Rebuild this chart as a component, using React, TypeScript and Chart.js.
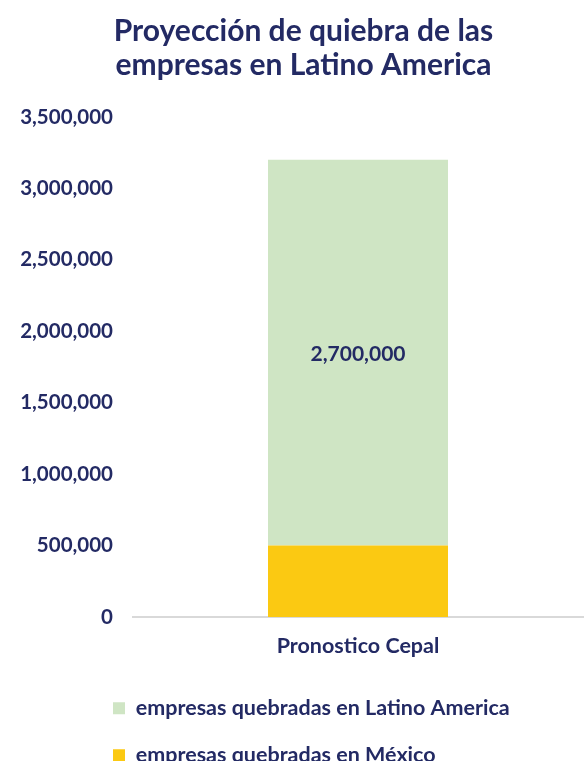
import React, { useEffect, useRef } from "react";
import { Chart, registerables } from "chart.js";

Chart.register(...registerables);

const categories = ["Pronostico Cepal"];
const mexicoValues = [500000];
const latamValues = [2700000];
const seriesNames = ["empresas quebradas en México", "empresas quebradas en Latino America"];
const titleLines = ["Proyección de quiebra de las", "empresas en Latino America"];
const yMin = 0;
const yMax = 3500000;
const yStep = 500000;

const NAVY = "#232a64";
const FONT = "Lato, 'Open Sans', sans-serif";
const LEGEND_PAD = 25.5;

const fmt = (v: number) => v.toLocaleString("en-US");

const layoutShift = {
  id: "layoutShift",
  afterLayout(chart: any) {
    const lg = chart.legend;
    if (lg) {
      const dx = 113 - (lg.left + LEGEND_PAD);
      lg.left += dx;
      lg.right += dx;
      lg.top += 15;
      lg.bottom += 15;
    }
    const tb = chart.titleBlock;
    if (tb) {
      tb.left += 12;
      tb.right += 12;
    }
  },
};

const valueLabel = {
  id: "valueLabel",
  afterDatasetsDraw(chart: any) {
    const ctx = chart.ctx;
    const meta = chart.getDatasetMeta(1);
    meta.data.forEach((bar: any, i: number) => {
      const v = chart.data.datasets[1].data[i] as number;
      const y = (bar.y + bar.base) / 2;
      ctx.save();
      ctx.fillStyle = NAVY;
      ctx.font = `bold 21px ${FONT}`;
      ctx.textAlign = "center";
      ctx.textBaseline = "middle";
      ctx.fillText(fmt(v), bar.x, y + 2);
      ctx.restore();
    });
  },
};

export default function App() {
  const ref = useRef<HTMLCanvasElement | null>(null);
  useEffect(() => {
    if (!ref.current) return;
    const chart = new Chart(ref.current, {
      type: "bar",
      data: {
        labels: categories,
        datasets: [
          {
            label: seriesNames[0],
            data: mexicoValues,
            backgroundColor: "#fbc912",
            barPercentage: 0.4,
            categoryPercentage: 1,
          },
          {
            label: seriesNames[1],
            data: latamValues,
            backgroundColor: "#cfe5c4",
            barPercentage: 0.4,
            categoryPercentage: 1,
          },
        ],
      },
      options: {
        animation: false,
        responsive: true,
        maintainAspectRatio: false,
        layout: { padding: { left: 0, right: 4, top: 0, bottom: 0 } },
        scales: {
          x: {
            stacked: true,
            grid: { display: false, drawTicks: false },
            border: { display: true, color: "#d9d9d9", width: 2 },
            ticks: { color: NAVY, font: { family: FONT, size: 21.5, weight: "bold" }, padding: 16 },
            afterFit: (s: any) => {
              s.height = 40;
            },
          },
          y: {
            stacked: true,
            min: yMin,
            max: yMax,
            ticks: {
              stepSize: yStep,
              color: NAVY,
              font: { family: FONT, size: 20.5, weight: "bold" },
              padding: 20,
              callback: (v: any) => fmt(Number(v)),
            },
            grid: { display: false, drawTicks: false },
            border: { display: false },
            afterFit: (s: any) => {
              s.width = 133;
            },
          },
        },
        plugins: {
          title: {
            display: true,
            text: titleLines,
            color: NAVY,
            font: { family: FONT, size: 30, weight: "bold", lineHeight: 34 / 30 },
            padding: { top: 14, bottom: 35 },
          },
          legend: {
            display: true,
            position: "bottom",
            align: "start",
            reverse: true,
            labels: {
              color: NAVY,
              boxWidth: 12,
              boxHeight: 12,
              padding: LEGEND_PAD,
              font: { family: FONT, size: 21.5, weight: "bold" },
            },
          },
          tooltip: { enabled: false },
        },
      },
      plugins: [layoutShift, valueLabel],
    });
    return () => chart.destroy();
  }, []);
  return (
    <div style={{ position: "fixed", left: 0, top: 0, width: 587, height: 761 }}>
      <canvas ref={ref} />
    </div>
  );
}
